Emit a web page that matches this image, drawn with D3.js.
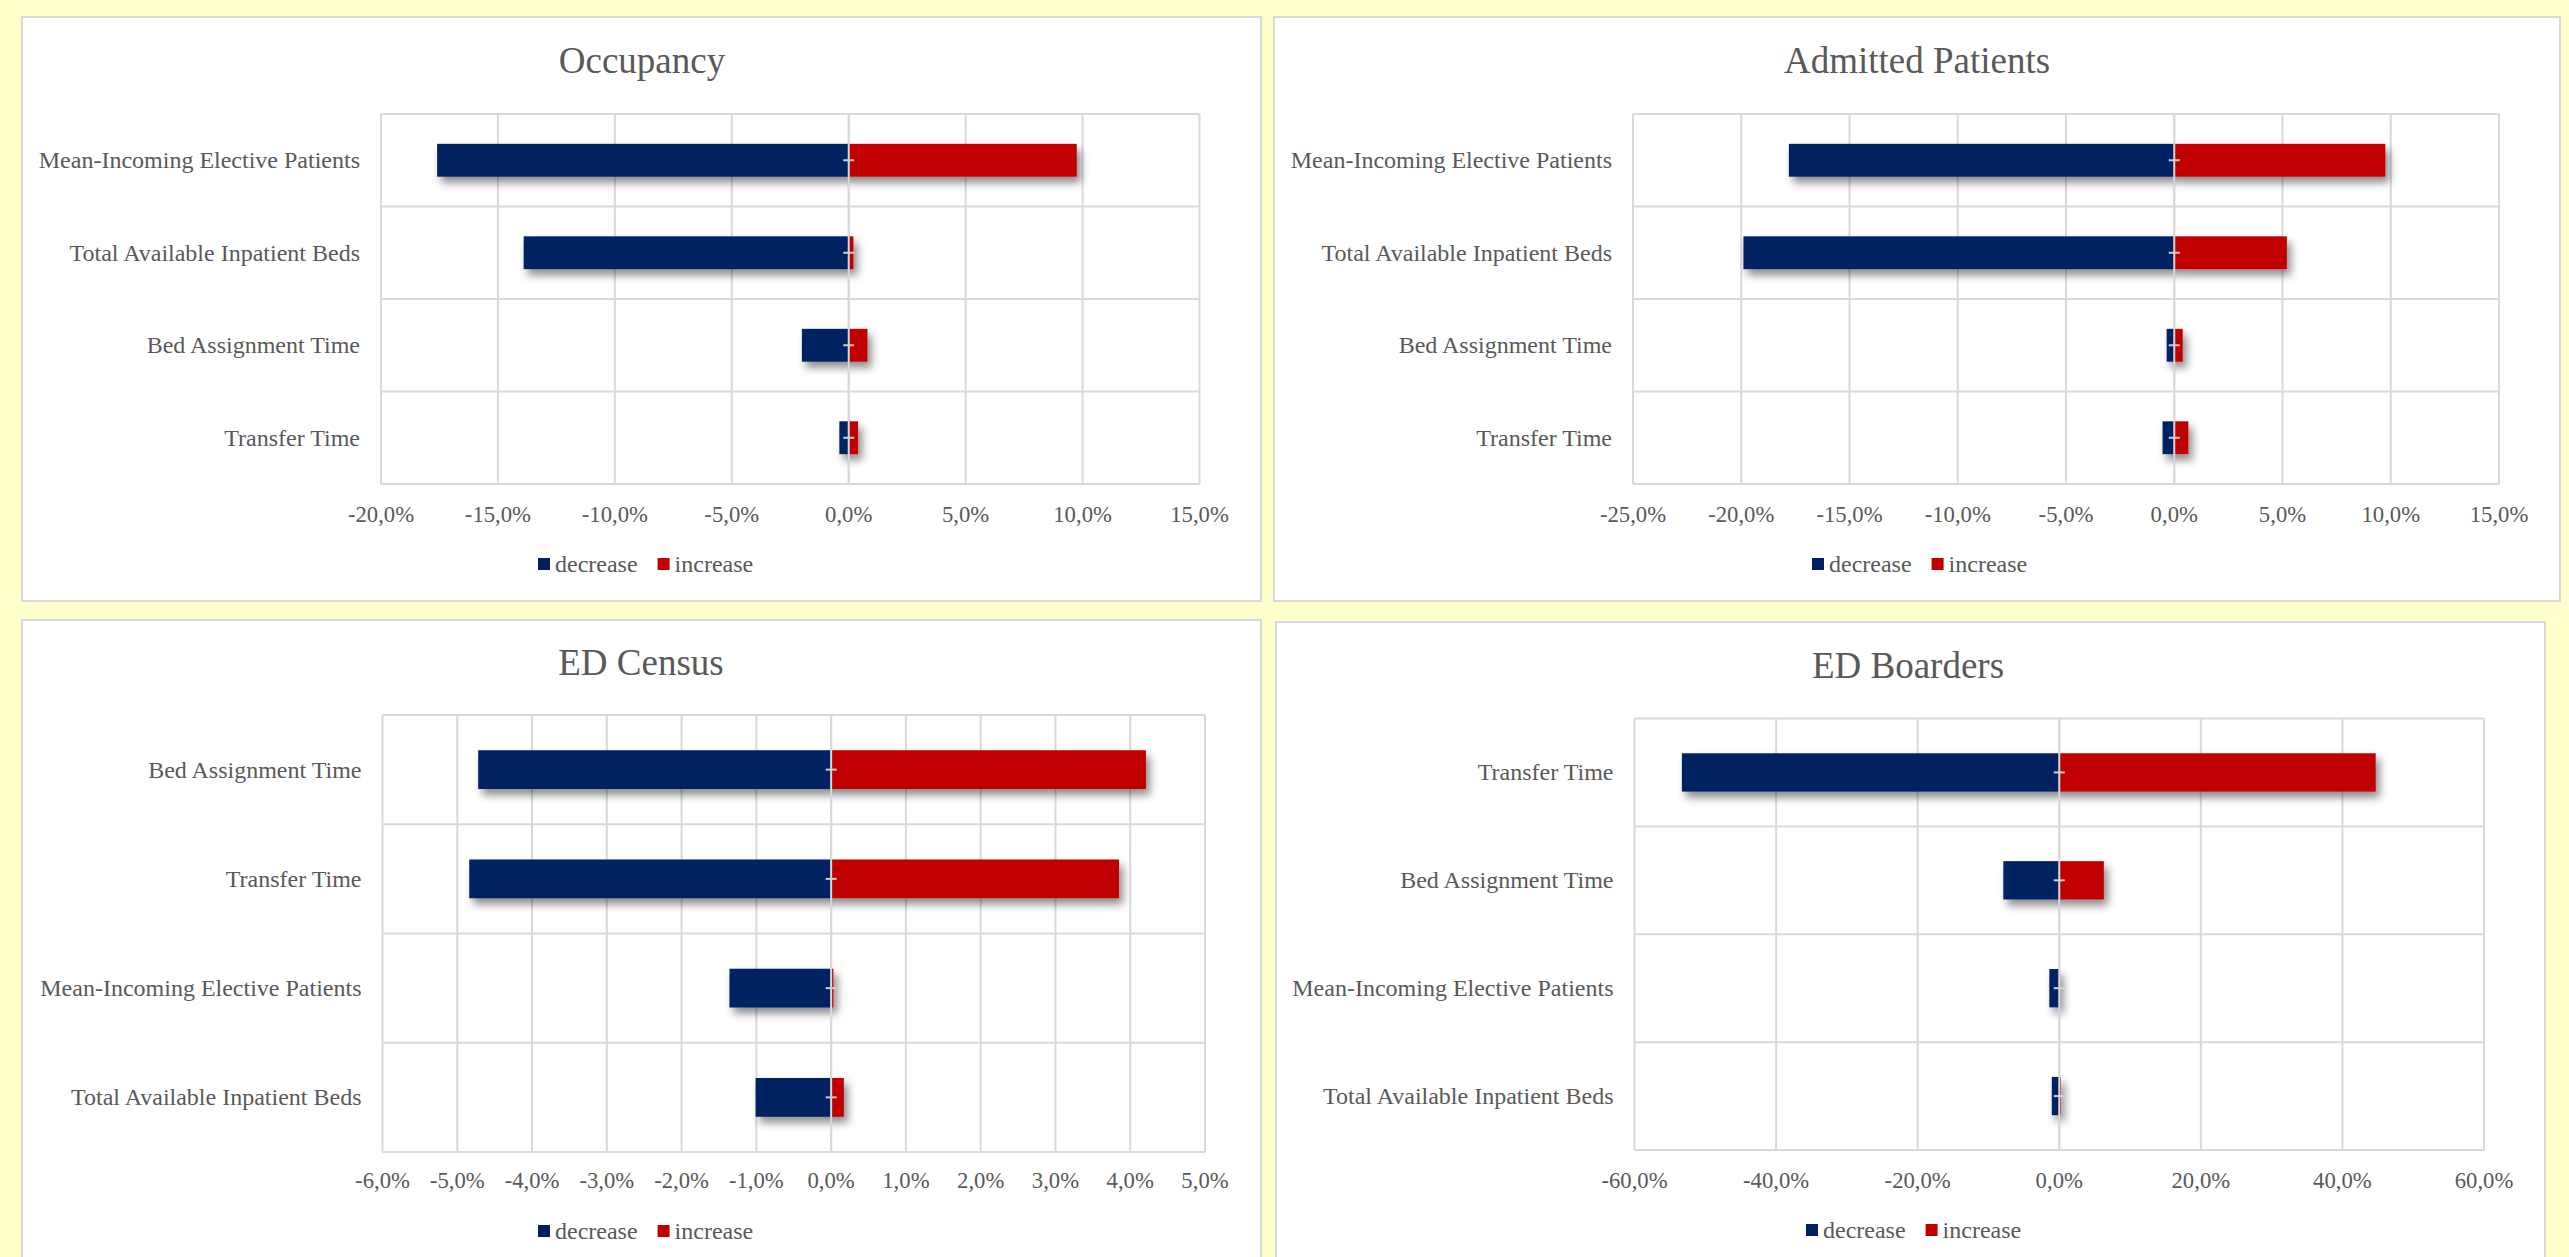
<!DOCTYPE html>
<html>
<head>
<meta charset="utf-8">
<script src="https://cdn.jsdelivr.net/npm/d3@7"></script>
<style>
  html, body { margin: 0; padding: 0; background: #FFFFCC; }
  svg { display: block; }
  text { font-family: "Liberation Serif", "Times New Roman", serif; fill: #595959; }
</style>
</head>
<body>
<script>
// ---------------- DATA ----------------
const titles = ["Occupancy", "Admitted Patients", "ED Census", "ED Boarders"];

const occCategories = ["Mean-Incoming Elective Patients", "Total Available Inpatient Beds", "Bed Assignment Time", "Transfer Time"];
const occDecrease = [-17.6, -13.9, -2.0, -0.4];
const occIncrease = [9.75, 0.2, 0.8, 0.4];
const occTicks = [-20, -15, -10, -5, 0, 5, 10, 15];

const admCategories = ["Mean-Incoming Elective Patients", "Total Available Inpatient Beds", "Bed Assignment Time", "Transfer Time"];
const admDecrease = [-17.8, -19.9, -0.35, -0.54];
const admIncrease = [9.75, 5.2, 0.39, 0.65];
const admTicks = [-25, -20, -15, -10, -5, 0, 5, 10, 15];

const edcCategories = ["Bed Assignment Time", "Transfer Time", "Mean-Incoming Elective Patients", "Total Available Inpatient Beds"];
const edcDecrease = [-4.72, -4.84, -1.36, -1.01];
const edcIncrease = [4.21, 3.85, 0.03, 0.17];
const edcTicks = [-6, -5, -4, -3, -2, -1, 0, 1, 2, 3, 4, 5];

const edbCategories = ["Transfer Time", "Bed Assignment Time", "Mean-Incoming Elective Patients", "Total Available Inpatient Beds"];
const edbDecrease = [-53.3, -7.9, -1.4, -1.05];
const edbIncrease = [44.7, 6.3, 0.05, 0.2];
const edbTicks = [-60, -40, -20, 0, 20, 40, 60];

const seriesNames = ["decrease", "increase"];
const seriesColors = ["#002060", "#C00000"];

// ---------------- LAYOUT ----------------
const W = 2569, H = 1257;
const panels = [
  { title: titles[0], cats: occCategories, dec: occDecrease, inc: occIncrease, ticks: occTicks,
    box: [22, 17, 1261, 601], plot: [381, 114, 1199.5, 484], titleY: 73, tickY: 522, legendY: 564, titleX: 642, legendX: 538 },
  { title: titles[1], cats: admCategories, dec: admDecrease, inc: admIncrease, ticks: admTicks,
    box: [1274, 17, 2560, 601], plot: [1633, 114, 2499, 484], titleY: 73, tickY: 522, legendY: 564, titleX: 1917, legendX: 1812 },
  { title: titles[2], cats: edcCategories, dec: edcDecrease, inc: edcIncrease, ticks: edcTicks,
    box: [22, 620, 1261, 1275], plot: [382.5, 715, 1205, 1152], titleY: 675, tickY: 1188, legendY: 1231, titleX: 641, legendX: 538 },
  { title: titles[3], cats: edbCategories, dec: edbDecrease, inc: edbIncrease, ticks: edbTicks,
    box: [1276, 622, 2545, 1275], plot: [1634.5, 718.5, 2484, 1150], titleY: 678, tickY: 1188, legendY: 1230, titleX: 1908, legendX: 1806 }
];

const fmt = v => (v < 0 ? "-" : "") + Math.abs(v).toFixed(1).replace(".", ",") + "%";

const svg = d3.select("body").append("svg").attr("width", W).attr("height", H);
svg.append("rect").attr("width", W).attr("height", H).attr("fill", "#FFFFCC");

const defs = svg.append("defs");
const f = defs.append("filter").attr("id", "shadow").attr("x", "-20%").attr("y", "-30%").attr("width", "150%").attr("height", "200%");
f.append("feDropShadow").attr("dx", 4).attr("dy", 6).attr("stdDeviation", 4)
  .attr("flood-color", "#000").attr("flood-opacity", 0.45);

panels.forEach(p => {
  const g = svg.append("g");
  const [bx0, by0, bx1, by1] = p.box;
  g.append("rect").attr("x", bx0).attr("y", by0).attr("width", bx1 - bx0).attr("height", by1 - by0)
    .attr("fill", "#fff").attr("stroke", "#d9d9d9").attr("stroke-width", 2);

  const [px0, py0, px1, py1] = p.plot;
  const x = d3.scaleLinear().domain([p.ticks[0], p.ticks[p.ticks.length - 1]]).range([px0, px1]);
  const y = d3.scaleBand().domain(p.cats).range([py0, py1]).padding(0);

  // title
  g.append("text").attr("x", p.titleX).attr("y", p.titleY).attr("text-anchor", "middle")
    .style("font-size", "37px").text(p.title);

  // vertical gridlines
  g.selectAll(".vg").data(p.ticks).enter().append("line")
    .attr("x1", d => x(d)).attr("x2", d => x(d)).attr("y1", py0).attr("y2", py1)
    .attr("stroke", "#d9d9d9").attr("stroke-width", 2);
  // horizontal band dividers
  const hs = p.cats.map(c => y(c)).concat([py1]);
  g.selectAll(".hg").data(hs).enter().append("line")
    .attr("x1", px0).attr("x2", px1).attr("y1", d => d).attr("y2", d => d)
    .attr("stroke", "#d9d9d9").attr("stroke-width", 2);

  // x tick labels
  g.selectAll(".tl").data(p.ticks).enter().append("text")
    .attr("x", d => x(d)).attr("y", p.tickY).attr("text-anchor", "middle")
    .style("font-size", "22.7px").text(d => fmt(d));

  // category labels
  g.selectAll(".cl").data(p.cats).enter().append("text")
    .attr("x", px0 - 21).attr("y", d => y(d) + y.bandwidth() / 2).attr("dy", "0.33em")
    .attr("text-anchor", "end").style("font-size", "24px").text(d => d);

  // bars
  const bh = y.bandwidth() * 0.355;
  const rows = p.cats.map((c, i) => ({ c, dec: p.dec[i], inc: p.inc[i] }));
  const bg = g.append("g").attr("filter", "url(#shadow)");
  rows.forEach(r => {
    const yc = y(r.c) + y.bandwidth() / 2;
    bg.append("rect").attr("x", x(r.dec)).attr("width", x(0) - x(r.dec))
      .attr("y", yc - bh / 2).attr("height", bh).attr("fill", seriesColors[0]);
    bg.append("rect").attr("x", x(0)).attr("width", x(r.inc) - x(0))
      .attr("y", yc - bh / 2).attr("height", bh).attr("fill", seriesColors[1]);
  });
  // zero axis line over bars
  g.append("line").attr("x1", x(0)).attr("x2", x(0)).attr("y1", py0).attr("y2", py1)
    .attr("stroke", "#d9d9d9").attr("stroke-width", 2);
  // small center ticks
  rows.forEach(r => {
    const yc = y(r.c) + y.bandwidth() / 2;
    g.append("line").attr("x1", x(0) - 5.5).attr("x2", x(0) + 5.5).attr("y1", yc).attr("y2", yc)
      .attr("stroke", "#d0d0d0").attr("stroke-width", 2);
  });

  // legend
  const lg = g.append("g").attr("transform", `translate(${p.legendX},${p.legendY})`);
  let lx = 0;
  seriesNames.forEach((s, i) => {
    lg.append("rect").attr("x", lx).attr("y", -6).attr("width", 12).attr("height", 12).attr("fill", seriesColors[i]);
    const t = lg.append("text").attr("x", lx + 17).attr("y", 0).attr("dy", "0.33em")
      .style("font-size", "24px").text(s);
    lx += 17 + t.node().getComputedTextLength() + 20;
  });
});
</script>
</body>
</html>
